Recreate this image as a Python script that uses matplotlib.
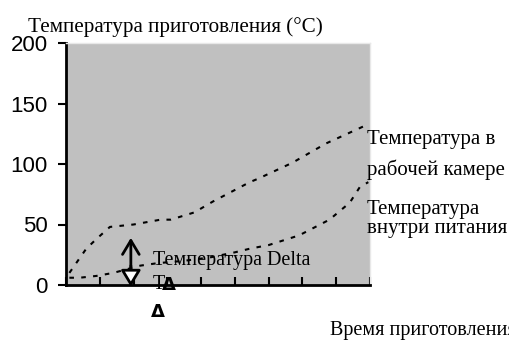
import numpy as np
import matplotlib.pyplot as plt

# chamber temperature (upper curve)
chamber_x = [0.1, 0.6, 0.9, 1.3, 2.0, 2.8, 3.1, 3.8, 4.35, 5.44, 5.7, 6.7, 7.7, 8.8, 8.95]
chamber_y = [10, 30, 38, 48, 50, 54, 54, 60, 69, 85, 88, 101, 117, 131, 133]

# food core temperature (lower curve)
food_x = [0.1, 0.4, 0.9, 1.4, 2.2, 2.7, 3.5, 4.3, 5.0, 5.44, 6.0, 6.9, 7.8, 8.4, 8.7, 8.95]
food_y = [6, 6, 7.5, 10, 16, 18, 20, 23, 27, 30, 33, 41, 54, 68, 81, 85]

y_ticks = [0, 50, 100, 150, 200]
x_ticks = list(range(0, 10))

serif = ['Liberation Serif', 'DejaVu Serif']
W, H = 510, 340
fig = plt.figure(figsize=(W / 100, H / 100), dpi=100)
ax = fig.add_axes([66 / W, 55 / H, 304 / W, 242 / H])
ax.set_facecolor('#c0c0c0')

ax.plot(chamber_x, chamber_y, color='black', lw=1.5, ls=(0, (2.2, 3.5)))
ax.plot(food_x, food_y, color='black', lw=1.5, ls=(0, (2.2, 3.5)))

ax.set_xlim(0, 9)
ax.set_ylim(0, 200)
ax.set_xticks(x_ticks)
ax.set_xticklabels([])
ax.set_yticks(y_ticks)
ax.tick_params(axis='x', direction='in', length=6, width=1.5)
ax.tick_params(axis='y', direction='out', length=6, width=1.5, labelsize=16,
               labelfontfamily='Liberation Sans', pad=7)
for s in ['left', 'bottom']:
    ax.spines[s].set_linewidth(2)
for s in ['top', 'right']:
    ax.spines[s].set_color('#e8e8e8')
    ax.spines[s].set_linewidth(1)

# delta arrows
ax.annotate('', xy=(1.92, 39), xytext=(1.92, 14),
            arrowprops=dict(arrowstyle='->, head_length=0.5, head_width=0.3',
                            lw=2, color='black', mutation_scale=20,
                            shrinkA=0, shrinkB=0))
ax.annotate('', xy=(1.92, -1.5), xytext=(1.92, 16), annotation_clip=False,
            arrowprops=dict(arrowstyle='-|>, head_length=0.5, head_width=0.3',
                            lw=2, color='black', fc='white', mutation_scale=20,
                            shrinkA=0, shrinkB=0))


def px_text(x, y, s, **kw):
    fig.text(x / W, 1 - y / H, s, va='baseline', **kw)


px_text(153, 265, 'Температура Delta', family=serif, fontsize=14.5)
px_text(153, 289, 'T', family=serif, fontsize=14.5)
px_text(162, 290, 'Δ', family='DejaVu Sans', fontsize=13, weight='bold')
px_text(151, 317, 'Δ', family='DejaVu Sans', fontsize=13, weight='bold')

px_text(28, 32, 'Температура приготовления (°C)', family=serif, fontsize=15.2)
px_text(367, 144, 'Температура в', family=serif, fontsize=15)
px_text(367, 175, 'рабочей камере', family=serif, fontsize=15)
px_text(367, 214, 'Температура', family=serif, fontsize=15)
px_text(367, 233, 'внутри питания', family=serif, fontsize=15)
px_text(330, 335, 'Время приготовления', family=serif, fontsize=14.5)

fig.savefig('out.png', dpi=100)
